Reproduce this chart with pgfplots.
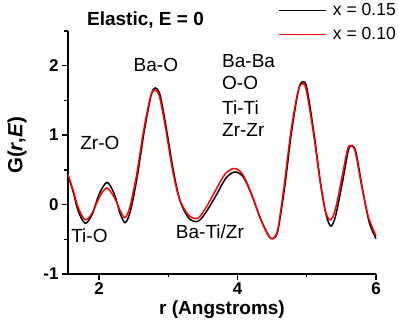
\documentclass[border=0pt]{standalone}
\usepackage{pgfplots}
\pgfplotsset{compat=1.18}
\usepackage{fontspec}
\setmainfont{Liberation Sans}
\begin{document}
\begin{tikzpicture}
\begin{axis}[
  scale only axis, width=308pt, height=243pt,
  xmin=1.55, xmax=6, ymin=-1, ymax=2.5,
  axis x line*=bottom, axis y line*=left,
  axis line style={line width=1.6pt, -},
  xtick={2,4,6}, ytick={-1,0,1,2},
  minor xtick={3,5}, minor ytick={-0.5,0.5,1.5,2.5},
  tick align=outside,
  major tick length=6pt, minor tick length=3.5pt,
  every tick/.style={line width=1.4pt, black},
  tick label style={font=\fontsize{17}{20}\selectfont\bfseries},
  /pgf/number format/assume math mode=true,
  xticklabel style={yshift=1pt},
  yticklabel style={xshift=0pt},
  xlabel={r (Angstroms)},
  ylabel={G(\textit{r},\textit{E})},
  label style={font=\fontsize{19}{22}\selectfont\bfseries},
  xlabel style={at={(axis description cs:0.5,-0.145)}, anchor=center},
  ylabel style={at={(axis description cs:-0.165,0.53)}, anchor=center, font=\fontsize{20.5}{24}\selectfont\bfseries},
  clip=false,
  legend style={draw=none, fill=none, at={(axis description cs:1.068,1.117)}, anchor=north east,
    font=\fontsize{17.5}{21}\selectfont, row sep=8pt, column sep=5pt, inner sep=0pt,
    nodes={inner sep=1pt}},
  legend cell align=left,
]
\addplot[black, line width=1.5pt, smooth,
  legend image code/.code={\draw[black, line width=1.3pt] (0pt,0pt) -- (47pt,0pt);}] coordinates {
(1.55,0.42)(1.62,0.20)(1.70,-0.10)(1.80,-0.27)(1.90,-0.14)(2.00,0.15)(2.115,0.32)(2.22,0.15)(2.30,-0.12)(2.375,-0.26)(2.45,-0.10)(2.55,0.40)(2.65,1.05)(2.75,1.57)(2.81,1.68)(2.88,1.58)(2.97,1.10)(3.07,0.50)(3.17,0.05)(3.30,-0.20)(3.43,-0.24)(3.55,-0.10)(3.70,0.15)(3.83,0.38)(3.96,0.47)(4.08,0.40)(4.20,0.15)(4.33,-0.20)(4.45,-0.45)(4.51,-0.49)(4.58,-0.38)(4.68,0.25)(4.78,1.05)(4.88,1.65)(4.94,1.77)(5.00,1.68)(5.10,1.05)(5.20,0.30)(5.28,-0.15)(5.35,-0.31)(5.42,-0.15)(5.52,0.35)(5.60,0.78)(5.65,0.85)(5.71,0.75)(5.80,0.25)(5.90,-0.25)(6.00,-0.49)
};
\addlegendentry{x = 0.15}
\addplot[red, line width=1.5pt, smooth,
  legend image code/.code={\draw[red, line width=1.3pt] (0pt,0pt) -- (47pt,0pt);}] coordinates {
(1.55,0.43)(1.62,0.22)(1.70,-0.05)(1.80,-0.22)(1.90,-0.12)(2.00,0.10)(2.11,0.24)(2.22,0.10)(2.30,-0.08)(2.37,-0.19)(2.44,-0.05)(2.54,0.42)(2.64,1.05)(2.74,1.55)(2.80,1.65)(2.87,1.56)(2.96,1.10)(3.06,0.50)(3.16,0.08)(3.29,-0.15)(3.42,-0.20)(3.54,-0.05)(3.69,0.22)(3.82,0.44)(3.95,0.52)(4.07,0.44)(4.19,0.18)(4.32,-0.18)(4.44,-0.44)(4.51,-0.49)(4.58,-0.36)(4.67,0.25)(4.77,1.05)(4.87,1.62)(4.93,1.74)(4.99,1.66)(5.09,1.07)(5.19,0.35)(5.27,-0.10)(5.34,-0.22)(5.41,-0.08)(5.51,0.40)(5.59,0.80)(5.64,0.85)(5.70,0.76)(5.79,0.28)(5.89,-0.18)(6.00,-0.45)
};
\addlegendentry{x = 0.10}
\begin{scope}[font=\fontsize{19}{22}\selectfont]
\node[font=\fontsize{19}{22}\selectfont\bfseries] at (axis cs:2.67,2.65) {Elastic, E = 0};
\node at (axis cs:2.82,2.01) {Ba-O};
\node at (axis cs:2.01,0.89) {Zr-O};
\node at (axis cs:1.86,-0.45) {Ti-O};
\node at (axis cs:3.60,-0.39) {Ba-Ti/Zr};
\node[anchor=west, inner sep=0pt] at (axis cs:3.775,2.07) {Ba-Ba};
\node[anchor=west, inner sep=0pt] at (axis cs:3.775,1.755) {O-O};
\node[anchor=west, inner sep=0pt] at (axis cs:3.775,1.40) {Ti-Ti};
\node[anchor=west, inner sep=0pt] at (axis cs:3.775,1.07) {Zr-Zr};
\end{scope}
\end{axis}
\path[use as bounding box] (-68pt,-49pt) rectangle (330pt,274pt);
\end{tikzpicture}
\end{document}
